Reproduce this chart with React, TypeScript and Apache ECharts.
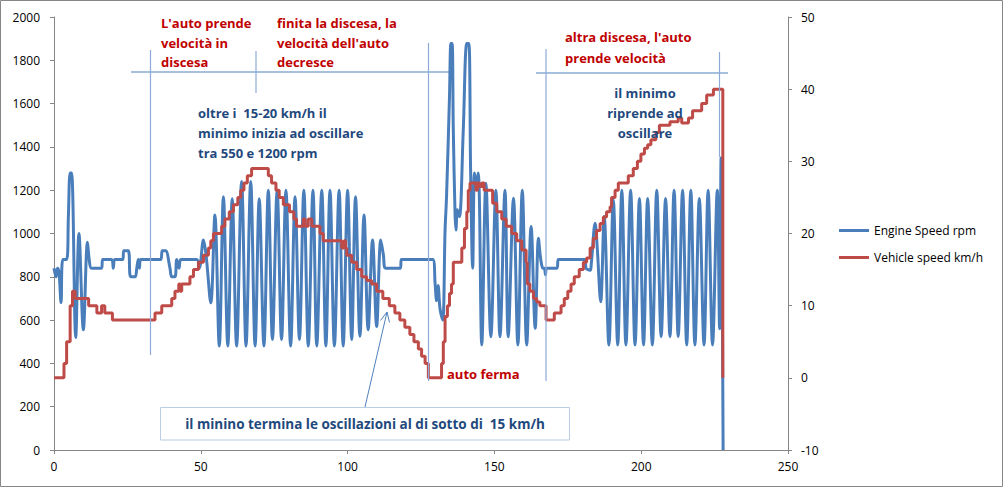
import React, { useEffect, useRef } from "react";
import * as echarts from "echarts";

// ---------- axis ranges ----------
const X_MIN = 0;
const X_MAX = 250;
const X_STEP = 50;
const RPM_MIN = 0;
const RPM_MAX = 2000;
const RPM_STEP = 200;
const KMH_MIN = -10;
const KMH_MAX = 50;
const KMH_STEP = 10;

const SERIES_NAMES = ["Engine Speed rpm", "Vehicle speed km/h"];

// ---------- Engine speed (time, rpm) ----------
const ENGINE_START: number[][] = [
  [0, 840], [0.7, 800], [1.2, 840], [1.7, 820], [2.4, 680], [3.0, 880], [4.3, 880],
  [4.9, 1080], [5.5, 1280], [6.0, 1280], [7.4, 520], [8.5, 1000], [10.0, 555],
  [11.4, 960], [12.0, 880], [12.8, 840], [16.2, 840], [16.6, 880], [19.6, 880],
  [20.2, 840], [20.7, 880], [23.4, 880], [23.8, 920], [25.3, 920], [26.1, 800],
  [27.6, 800], [28.2, 840], [28.7, 880], [29.1, 840], [29.5, 880], [36.3, 880],
  [36.9, 920], [38.0, 920], [39.5, 840], [40.1, 800], [41.2, 800], [41.8, 880],
  [42.6, 840], [43.2, 880], [48.6, 880], [49.5, 840],
];
const ENGINE_OSC_1: number[][] = [
  [50.9, 970], [51.8, 900], [53.4, 680], [54.8, 1085], [56.3, 480], [57.7, 1170],
  [59.2, 480], [60.7, 1160], [62.2, 480], [63.9, 1240], [65.4, 480], [67.0, 1240],
  [68.5, 480], [69.9, 1160], [71.5, 480], [73.0, 1200], [74.4, 510], [76.0, 1200],
  [77.5, 510], [79.0, 1200], [80.6, 480], [82.1, 1170], [83.6, 510], [85.1, 1200],
  [86.6, 480], [88.2, 1200], [89.5, 480], [91.2, 1200], [92.6, 480], [94.0, 1200],
  [95.5, 480], [97.1, 1200], [98.5, 480], [100.0, 1200], [101.4, 510], [102.7, 1170],
  [104.2, 525], [105.6, 1085], [107.0, 555], [108.5, 970], [109.9, 570], [111.3, 970],
  [112.2, 900], [112.9, 840], [118.0, 840], [118.3, 880], [129.0, 880],
];
const ENGINE_STOP: number[][] = [
  [129.8, 770], [130.3, 690], [130.8, 760], [131.5, 650], [132.4, 600], [133.2, 1016],
  [133.7, 1170], [134.7, 1630], [135.2, 1878], [135.6, 1878], [136.0, 1480],
  [136.6, 1090], [136.9, 1016], [137.4, 1110], [138.1, 1078], [139.4, 1480],
  [140.6, 1878], [141.3, 1878], [141.9, 1290], [142.6, 840], [143.2, 1280],
  [143.7, 1220], [144.5, 1280],
];
const ENGINE_OSC_2: number[][] = [
  [145.7, 485], [147.1, 1232], [148.8, 523], [150.5, 1200], [151.9, 523], [153.6, 1200],
  [154.7, 523], [156.5, 1163], [158.0, 485], [159.5, 1200], [161.0, 485], [162.5, 1032],
  [163.9, 562], [165.0, 978], [165.6, 900], [166.0, 862], [166.5, 840], [167.0, 840],
  [167.4, 810], [167.8, 840], [171.3, 840], [171.8, 880], [180.9, 880], [181.2, 840],
  [182.6, 830], [183.0, 860],
];
const ENGINE_OSC_3: number[][] = [
  [184.3, 1047], [185.0, 940], [186.2, 685], [187.4, 1078], [189.0, 485], [190.5, 1155],
  [192.0, 485], [193.4, 1200], [194.8, 485], [196.4, 1200], [197.9, 485], [199.4, 1162],
  [200.8, 485], [202.2, 1162], [203.8, 485], [205.3, 1200], [206.8, 524], [208.3, 1162],
  [209.8, 524], [211.2, 1200], [212.6, 524], [214.1, 1200], [215.5, 485], [216.9, 1200],
  [218.3, 485], [219.8, 1162], [221.4, 485], [222.8, 1200], [224.3, 485], [225.9, 1200],
  [226.7, 560], [227.2, 1350], [227.9, 0],
];

// ---------- Vehicle speed (time, km/h), stepped ----------
const VEHICLE_START: number[][] = [
  [0, 0], [3.4, 2], [4.3, 5], [5.5, 10], [6.3, 12], [7.2, 11], [11.8, 10], [14.6, 9],
  [16.2, 10], [17.3, 9], [19.9, 8], [34.4, 9], [36.7, 10], [40.1, 11], [41.2, 12],
  [42.5, 13], [43.0, 12], [43.5, 13], [46.3, 14],
];
const VEHICLE_DESCENT_1: number[][] = [
  [47.5, 15], [49.2, 16], [50.9, 17], [52.6, 18], [53.4, 19], [54.3, 20], [57.1, 21],
  [58.2, 22], [59.7, 23], [61.1, 24], [62.6, 25], [63.6, 26], [64.7, 27], [65.85, 28],
  [67.3, 29], [73.0, 28], [74.1, 27], [75.6, 26], [76.7, 25], [78.1, 24], [80.2, 23],
  [81.7, 22], [82.6, 21], [84.9, 22], [85.5, 21], [86.6, 22], [87.8, 21], [90.6, 20],
  [91.7, 19], [98.0, 18], [98.8, 19], [99.3, 18], [99.7, 17], [101.4, 16], [103.1, 15],
  [104.8, 14], [106.5, 13.5], [108.2, 13], [109.9, 12], [112.0, 11], [114.2, 10],
  [116.1, 9], [117.8, 8], [119.5, 7], [121.2, 6], [122.6, 5], [124.1, 4], [125.2, 3],
  [126.4, 2], [127.5, 0],
];
const VEHICLE_RESTART: number[][] = [
  [132.0, 2], [132.6, 5], [133.2, 8.5], [134.0, 10], [134.7, 11.7], [135.4, 13],
  [136.0, 16], [138.9, 18], [139.8, 20.7], [140.6, 23], [141.1, 26], [141.7, 27],
  [143.7, 26], [144.2, 27], [144.9, 26.5], [145.7, 27], [146.5, 26], [149.4, 24.2],
  [150.8, 23], [152.5, 22], [154.0, 21], [155.9, 20], [157.6, 19], [159.3, 17.7],
  [160.8, 16], [161.2, 13], [162.1, 12], [163.3, 11], [164.4, 10.5], [165.5, 10],
  [167.6, 8], [170.4, 9],
];
const VEHICLE_DESCENT_2: number[][] = [
  [172.7, 10], [173.8, 11], [175.0, 12], [176.1, 13], [177.2, 14], [178.9, 15],
  [180.3, 16], [181.4, 16.6], [182.6, 18], [183.7, 19.3], [184.8, 20.4], [186.0, 21.4],
  [187.1, 22.3], [188.2, 23], [189.4, 23.7], [189.9, 25], [191.1, 26], [192.2, 27],
  [195.6, 28], [197.3, 29], [198.7, 30], [199.9, 31], [201.1, 31.8], [202.2, 32.3],
  [203.3, 33], [205.0, 34], [206.2, 35], [209.8, 35.5], [212.6, 36], [213.8, 35.3],
  [216.1, 36], [217.5, 37], [220.6, 38], [222.3, 39.2], [224.6, 40], [227.4, 40],
  [227.8, 0],
];

const ENGINE_SPEED = [
  ...ENGINE_START, ...ENGINE_OSC_1, ...ENGINE_STOP, ...ENGINE_OSC_2, ...ENGINE_OSC_3,
];
const VEHICLE_SPEED = [
  ...VEHICLE_START, ...VEHICLE_DESCENT_1, ...VEHICLE_RESTART, ...VEHICLE_DESCENT_2,
];

// ---------- annotation texts ----------
const NOTE_DESCENT_1 = ["L'auto prende", "velocità in", "discesa"];
const NOTE_AFTER_DESCENT = ["finita la discesa, la", "velocità dell'auto", "decresce"];
const NOTE_OSC_START = ["oltre i  15-20 km/h il", "minimo inizia ad oscillare", "tra 550 e 1200 rpm"];
const NOTE_DESCENT_2 = ["altra discesa, l'auto", "prende velocità"];
const NOTE_OSC_RESUME = ["il minimo", "riprende ad", "oscillare"];
const NOTE_STOP = "auto ferma";
const NOTE_BOX = "il minino termina le oscillazioni al di sotto di  15 km/h";

const FONT = "'Open Sans', Lato, sans-serif";
const RED = "#c00000";
const NAVY = "#1f497d";
const LINE_BLUE = "#4f81bd";

function textLines(
  lines: string[], x: number, y0: number, dy: number, color: string,
  align = "left", size = 13,
) {
  return lines.map((t, i) => ({
    type: "text",
    x,
    y: y0 + i * dy,
    z: 20,
    silent: true,
    style: {
      text: t,
      fill: color,
      font: `bold ${size}px ${FONT}`,
      align,
      textAlign: align,
      verticalAlign: "middle",
      textVerticalAlign: "middle",
    },
  }));
}

function seg(x1: number, y1: number, x2: number, y2: number, color = LINE_BLUE, w = 1) {
  return {
    type: "line",
    z: 15,
    silent: true,
    shape: { x1, y1, x2, y2 },
    style: { stroke: color, lineWidth: w },
  };
}

export default function App() {
  const ref = useRef<HTMLDivElement>(null);

  useEffect(() => {
    if (!ref.current) return;
    const chart = echarts.init(ref.current, undefined, { renderer: "svg" });
    const axisLabel = {
      color: "#000",
      fontSize: 12,
      fontFamily: FONT,
      formatter: (v: number) => String(v),
    };
    const axisLine = { show: true, lineStyle: { color: "#868686", width: 1 } };
    const axisTick = { show: true, length: 4, lineStyle: { color: "#868686" } };

    chart.setOption({
      animation: false,
      backgroundColor: "#ffffff",
      grid: { left: 54, right: 216, top: 17, bottom: 38, containLabel: false },
      legend: {
        orient: "vertical",
        left: 834,
        top: 218,
        icon: "rect",
        itemWidth: 30,
        itemHeight: 3,
        itemGap: 12,
        data: SERIES_NAMES,
        textStyle: { color: "#000", fontSize: 12, fontFamily: FONT, lineHeight: 15 },
      },
      xAxis: {
        type: "value",
        min: X_MIN,
        max: X_MAX,
        interval: X_STEP,
        axisLine,
        axisTick,
        splitLine: { show: false },
        axisLabel: { ...axisLabel, margin: 10 },
      },
      yAxis: [
        {
          type: "value",
          min: RPM_MIN,
          max: RPM_MAX,
          interval: RPM_STEP,
          position: "left",
          axisLine,
          axisTick,
          splitLine: { show: false },
          axisLabel: { ...axisLabel, margin: 14 },
        },
        {
          type: "value",
          min: KMH_MIN,
          max: KMH_MAX,
          interval: KMH_STEP,
          position: "right",
          axisLine,
          axisTick,
          splitLine: { show: false },
          axisLabel: { ...axisLabel, margin: 13 },
        },
      ],
      series: [
        {
          name: SERIES_NAMES[0],
          type: "line",
          yAxisIndex: 0,
          data: ENGINE_SPEED,
          symbol: "none",
          smooth: 0.35,
          z: 2,
          lineStyle: { color: "#4a7ebb", width: 3 },
          itemStyle: { color: "#4a7ebb" },
        },
        {
          name: SERIES_NAMES[1],
          type: "line",
          yAxisIndex: 1,
          data: VEHICLE_SPEED,
          symbol: "none",
          step: "end",
          z: 3,
          lineStyle: { color: "#be4b48", width: 3 },
          itemStyle: { color: "#be4b48" },
        },
      ],
      graphic: [
        {
          type: "rect",
          silent: true,
          z: 0,
          shape: { x: 0.5, y: 0.5, width: 1002, height: 486 },
          style: { fill: "none", stroke: "#868686", lineWidth: 1 },
        },
        // horizontal bracket lines
        seg(131, 72, 450, 72),
        seg(536, 73, 728, 73),
        // vertical markers
        seg(150.5, 50, 150.5, 355, "#8eaadb", 1.2),
        seg(256, 51, 256, 93, "#8eaadb", 1.2),
        seg(428.5, 43, 428.5, 381, "#8eaadb", 1.2),
        seg(546, 49, 546, 381, "#8eaadb", 1.2),
        seg(719.5, 52, 719.5, 157, "#8eaadb", 1.2),
        // callout box + arrow
        {
          type: "rect",
          silent: true,
          z: 15,
          shape: { x: 160.5, y: 407.5, width: 409, height: 32.5 },
          style: { fill: "#ffffff", stroke: "#b9cde5", lineWidth: 1 },
        },
        seg(365, 407, 387, 312),
        {
          type: "polyline",
          silent: true,
          z: 15,
          shape: { points: [[380.5, 320.5], [387, 312], [389.5, 322.5]] },
          style: { stroke: LINE_BLUE, lineWidth: 1, fill: "none" },
        },
        ...textLines(NOTE_DESCENT_1, 161, 23, 19.5, RED),
        ...textLines(NOTE_AFTER_DESCENT, 277, 23, 19.5, RED),
        ...textLines(NOTE_OSC_START, 198, 113, 20, NAVY),
        ...textLines(NOTE_DESCENT_2, 565, 37, 20.5, RED),
        ...textLines(NOTE_OSC_RESUME, 645, 93, 20, NAVY, "center"),
        ...textLines([NOTE_STOP], 447, 374, 0, RED),
        ...textLines([NOTE_BOX], 365, 424, 0, NAVY, "center", 13.5),
      ],
    });

    return () => chart.dispose();
  }, []);

  return (
    <div
      ref={ref}
      style={{ position: "fixed", left: 0, top: 0, width: 1004, height: 488, background: "#fff" }}
    />
  );
}
